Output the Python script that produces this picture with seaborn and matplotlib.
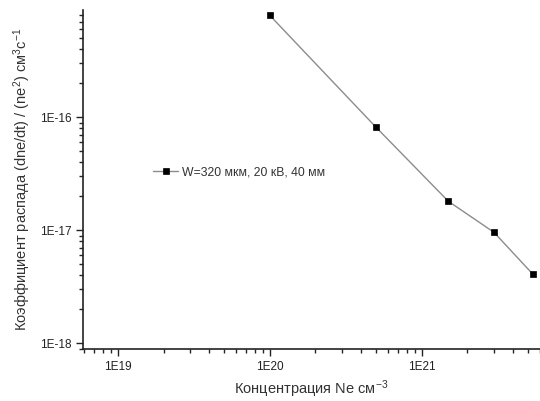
import matplotlib
matplotlib.use("Agg")
import matplotlib.pyplot as plt
import numpy as np
import pandas as pd
import seaborn as sns
from matplotlib.ticker import FuncFormatter, LogLocator, NullFormatter

# values
concentration = [1.0e20, 5.0e20, 1.5e21, 3.0e21, 5.4e21]
decay_coef = [8.0e-16, 8.2e-17, 1.81e-17, 9.6e-18, 4.1e-18]
series_label = "W=320 мкм, 20 кВ, 40 мм"

sns.set_style("ticks")
plt.rcParams["font.family"] = ["Liberation Sans", "DejaVu Sans"]
plt.rcParams["mathtext.default"] = "regular"

df = pd.DataFrame({"ne": concentration, "k": decay_coef})

fig = plt.figure(figsize=(5.40, 4.01), dpi=100)
ax = fig.add_axes([0.1537, 0.1297, 0.8463, 0.8453])

sns.lineplot(data=df, x="ne", y="k", ax=ax, color="#8c8c8c", linewidth=1.0,
             marker="s", markersize=5, markeredgewidth=0.5,
             markerfacecolor="black", markeredgecolor="black",
             label=series_label)

ax.set_xscale("log")
ax.set_yscale("log")
ax.set_xlim(10 ** 18.77, 10 ** 21.78)
ax.set_ylim(10 ** -18.05, 10 ** -15.05)

fmt = FuncFormatter(lambda v, p: f"1E{int(round(np.log10(v)))}")
for axis in (ax.xaxis, ax.yaxis):
    axis.set_major_locator(LogLocator(base=10))
    axis.set_minor_locator(LogLocator(base=10, subs=np.arange(2, 10)))
    axis.set_major_formatter(fmt)
    axis.set_minor_formatter(NullFormatter())

ax.tick_params(which="major", direction="out", length=5, width=1, labelsize=8.5,
               colors="#222222")
ax.tick_params(which="minor", direction="out", length=3, width=1)
ax.xaxis.set_ticks_position("bottom")
ax.yaxis.set_ticks_position("left")

for side in ("top", "right"):
    ax.spines[side].set_visible(False)
for side in ("left", "bottom"):
    ax.spines[side].set_linewidth(1.2)
    ax.spines[side].set_color("#222222")

ax.set_xlabel("Концентрация Ne см$^{-3}$", fontsize=10.5, labelpad=4,
              color="#333333")
ax.set_ylabel("Коэффициент распада (dne/dt) / (ne$^2$) см$^3$с$^{-1}$",
              fontsize=10.5, labelpad=5, color="#333333")

leg = ax.legend(loc="center left", bbox_to_anchor=(0.13, 0.52), frameon=False,
                fontsize=8.8, handlelength=2.0, handletextpad=0.3)
for t in leg.get_texts():
    t.set_color("#333333")

fig.savefig("out.png", dpi=100)
